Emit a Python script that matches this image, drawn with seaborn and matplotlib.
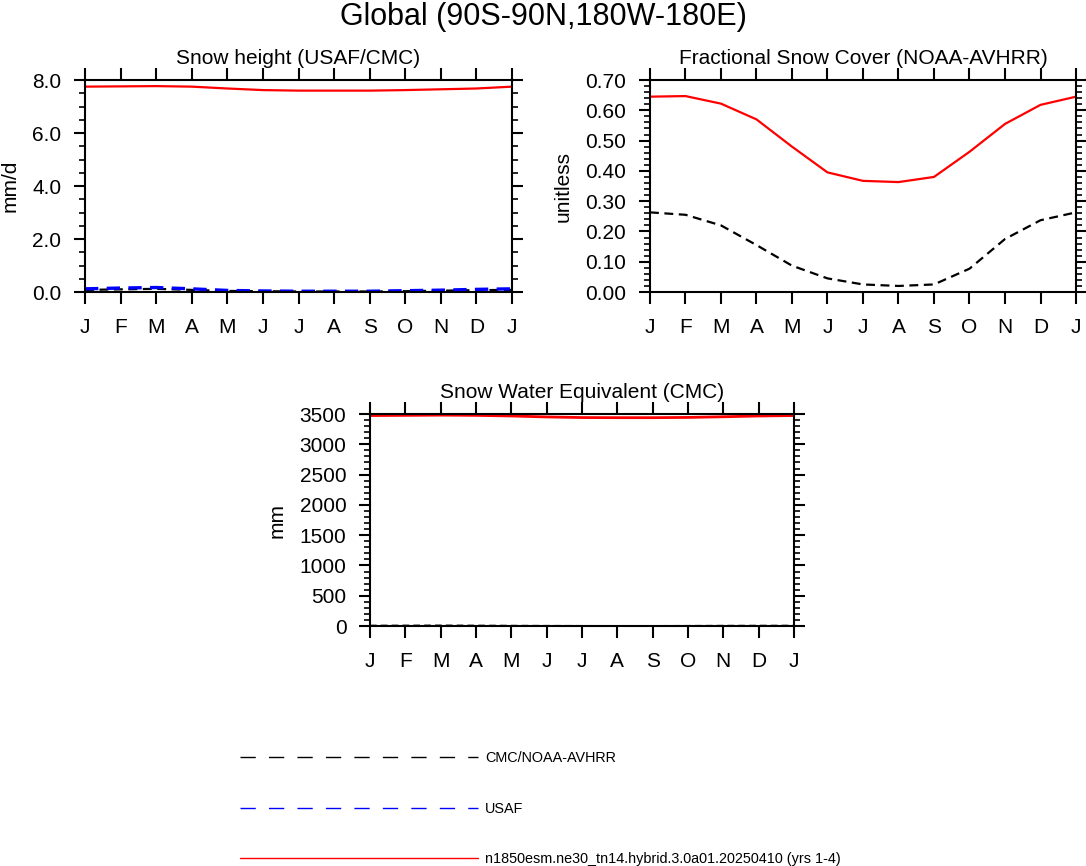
import numpy as np
import pandas as pd
import matplotlib
matplotlib.use("Agg")
import matplotlib.pyplot as plt
from matplotlib.lines import Line2D
from matplotlib.ticker import MultipleLocator
import seaborn as sns

# monthly climatology, Jan..Dec plus the wrap-around Jan
months = ["J", "F", "M", "A", "M", "J", "J", "A", "S", "O", "N", "D", "J"]
month_idx = list(range(13))

# Snow height (mm/d)
snowh_model = [7.75, 7.76, 7.77, 7.75, 7.68, 7.62, 7.60, 7.60, 7.60, 7.62, 7.65, 7.68, 7.75]
snowh_cmc = [0.08, 0.10, 0.12, 0.08, 0.04, 0.03, 0.02, 0.02, 0.02, 0.03, 0.05, 0.07, 0.08]
snowh_usaf = [0.12, 0.15, 0.17, 0.12, 0.06, 0.04, 0.03, 0.03, 0.03, 0.05, 0.07, 0.10, 0.12]

# Fractional snow cover (unitless)
fsno_model = [0.645, 0.647, 0.622, 0.570, 0.480, 0.395, 0.367, 0.363, 0.380, 0.463, 0.555, 0.618, 0.645]
fsno_avhrr = [0.263, 0.255, 0.220, 0.155, 0.087, 0.045, 0.025, 0.020, 0.025, 0.077, 0.175, 0.237, 0.263]

# Snow water equivalent (mm)
swe_model = [3475, 3478, 3482, 3478, 3468, 3452, 3442, 3440, 3440, 3444, 3455, 3468, 3475]
swe_cmc = [12, 14, 16, 13, 9, 6, 4, 3, 3, 5, 8, 10, 12]

model_name = "n1850esm.ne30_tn14.hybrid.3.0a01.20250410 (yrs 1-4)"
obs_name = "CMC/NOAA-AVHRR"
usaf_name = "USAF"

sns.set_style("ticks")
plt.rcParams["font.family"] = ["Liberation Sans", "DejaVu Sans"]
plt.rcParams.update({
    "axes.linewidth": 1.5,
    "axes.edgecolor": "black",
    "text.color": "black",
    "axes.labelcolor": "black",
    "xtick.color": "black",
    "ytick.color": "black",
})

fig = plt.figure(figsize=(10.86, 8.66), dpi=100)
fig.suptitle("Global (90S-90N,180W-180E)", fontsize=22, y=0.998)

ax1 = fig.add_axes([0.0783, 0.6628, 0.3932, 0.2448])
ax2 = fig.add_axes([0.5985, 0.6628, 0.3923, 0.2448])
ax3 = fig.add_axes([0.3407, 0.2771, 0.3904, 0.2448])

dash = (0, (4, 2.5))


def draw(ax, series, title, ylabel, ymax, major, minor, fmt):
    for vals, color, ls, lw in series:
        df = pd.DataFrame({"month": month_idx, "value": vals})
        sns.lineplot(data=df, x="month", y="value", ax=ax, color=color,
                     linestyle=ls, linewidth=lw)
    ax.set_xlim(0, 12)
    ax.set_ylim(0, ymax)
    ax.set_xticks(month_idx)
    ax.set_xticklabels(months)
    ax.yaxis.set_major_locator(MultipleLocator(major))
    ax.yaxis.set_minor_locator(MultipleLocator(minor))
    ax.yaxis.set_major_formatter(fmt)
    ax.set_title(title, fontsize=15, pad=11.5)
    ax.set_ylabel(ylabel, fontsize=15, labelpad=9)
    ax.set_xlabel("")
    ax.tick_params(which="both", direction="out", top=True, right=True,
                   width=1.5, labelsize=15)
    ax.tick_params(axis="x", which="major", length=8.5, pad=10)
    ax.tick_params(axis="y", which="major", length=8, pad=9)
    ax.tick_params(which="minor", length=4, width=1.2)
    for s in ax.spines.values():
        s.set_visible(True)


draw(ax1,
     [(snowh_model, "red", "-", 1.6),
      (snowh_cmc, "black", dash, 1.6),
      (snowh_usaf, "blue", dash, 2.4)],
     "Snow height (USAF/CMC)", "mm/d", 8.0, 2.0, 0.5, "{x:.1f}")
draw(ax2,
     [(fsno_model, "red", "-", 1.6),
      (fsno_avhrr, "black", dash, 1.6)],
     "Fractional Snow Cover (NOAA-AVHRR)", "unitless", 0.70, 0.10, 0.02, "{x:.2f}")
draw(ax3,
     [(swe_model, "red", "-", 2.0),
      (swe_cmc, "#666666", dash, 1.2)],
     "Snow Water Equivalent (CMC)", "mm", 3500, 500, 100, "{x:.0f}")

handles = [Line2D([], [], color="black", lw=1.0, linestyle=(0, (11, 9.5))),
           Line2D([], [], color="blue", lw=1.0, linestyle=(0, (11, 9.5))),
           Line2D([], [], color="red", lw=1.0)]
fig.legend(handles, [obs_name, usaf_name, model_name],
           loc="upper left", bbox_to_anchor=(0.221, 0.133), frameon=False,
           fontsize=10.4, handlelength=16.5, handletextpad=0.45,
           labelspacing=2.55, borderpad=0, borderaxespad=0)

fig.savefig("out.png", dpi=100)
